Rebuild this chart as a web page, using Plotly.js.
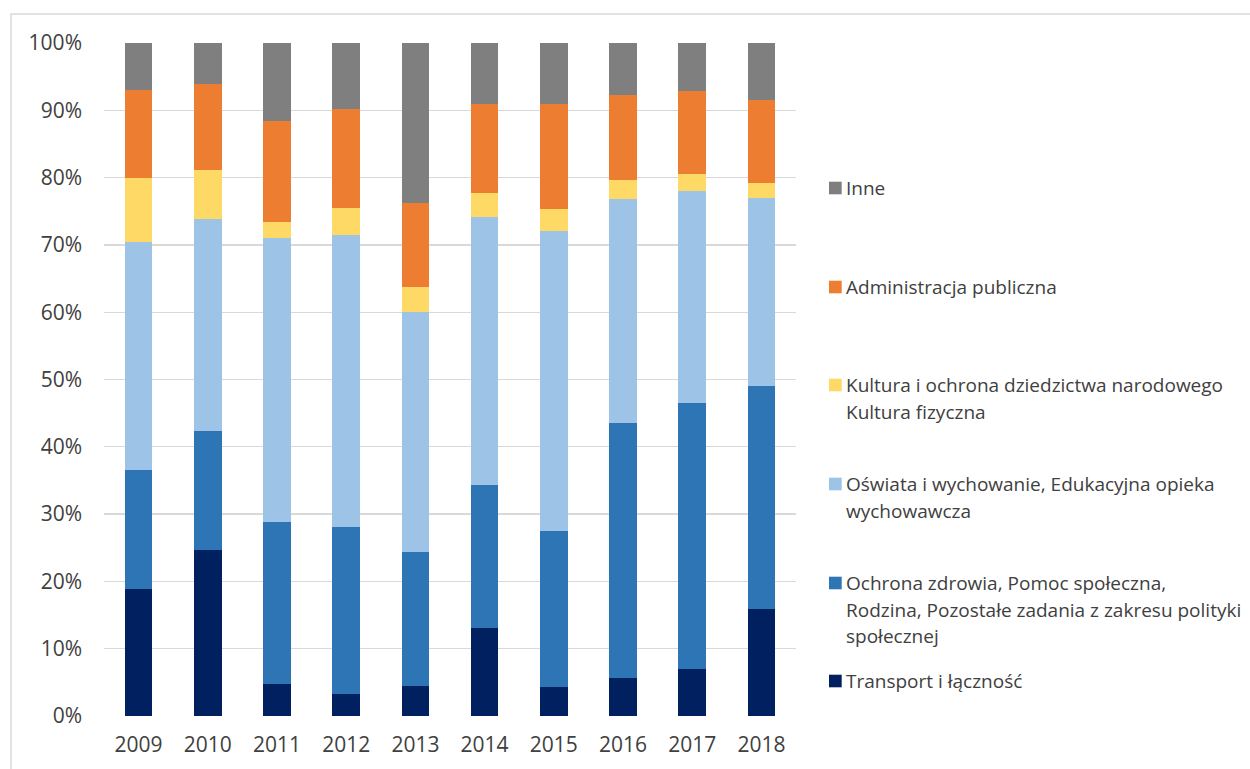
<!DOCTYPE html>
<html>
<head>
<meta charset="utf-8">
<script src="https://cdn.plot.ly/plotly-3.0.1.min.js"></script>
<style>html,body{margin:0;padding:0;background:#fff;}#chart{width:1250px;height:769px;}</style>
</head>
<body>
<div id="chart"></div>
<script>
const years = ['2009','2010','2011','2012','2013','2014','2015','2016','2017','2018'];
const yTickVals = [0,10,20,30,40,50,60,70,80,90,100];
const yTickText = ['0%','10%','20%','30%','40%','50%','60%','70%','80%','90%','100%'];

// shares in percent (bottom to top)
const transport = [18.9, 24.7, 4.7, 3.2, 4.4, 13.1, 4.3, 5.7, 7.0, 15.9];
const ochrona   = [17.6, 17.6, 24.1, 24.9, 19.9, 21.2, 23.2, 37.9, 39.5, 33.1];
const oswiata   = [34.0, 31.6, 42.2, 43.3, 35.7, 39.8, 44.6, 33.2, 31.5, 28.0];
const kultura   = [9.4, 7.3, 2.4, 4.1, 3.7, 3.6, 3.3, 2.8, 2.5, 2.2];
const admin     = [13.1, 12.7, 15.0, 14.7, 12.5, 13.3, 15.5, 12.6, 12.3, 12.4];
const inne      = [7.0, 6.1, 11.7, 9.8, 23.8, 9.0, 9.1, 7.8, 7.2, 8.4];

const seriesNames = [
  'Transport i łączność',
  'Ochrona zdrowia, Pomoc społeczna,\nRodzina, Pozostałe zadania z zakresu polityki\nspołecznej',
  'Oświata i wychowanie, Edukacyjna opieka\nwychowawcza',
  'Kultura i ochrona dziedzictwa narodowego\nKultura fizyczna',
  'Administracja publiczna',
  'Inne'
];
const seriesValues = [transport, ochrona, oswiata, kultura, admin, inne];
const seriesColors = ['#002060', '#2E75B6', '#9DC3E6', '#FFD966', '#ED7D31', '#7F7F7F'];

const W = 1250, H = 769;
const M = {l: 104, r: 454, t: 43, b: 53};
const pw = W - M.l - M.r, ph = H - M.t - M.b;
const px = x => (x - M.l) / pw;
const py = y => (H - M.b - y) / ph;

const traces = seriesValues.map((vals, i) => ({
  type: 'bar',
  name: seriesNames[i].replace(/\n/g, ' '),
  x: years,
  y: vals,
  marker: {color: seriesColors[i], line: {width: 0}},
  hoverinfo: 'x+y+name'
}));

// manual legend (top entry = last series)
const legendFirstLineY = [681, 583, 484, 385, 287, 188]; // per series index
const lineGap = 26.7;
const annotations = [];
const shapes = [];
seriesNames.forEach((nm, i) => {
  const lines = nm.split('\n');
  const y0 = legendFirstLineY[i];
  shapes.push({
    type: 'rect', xref: 'paper', yref: 'paper',
    x0: px(829), x1: px(841.7), y0: py(y0 + 6.3), y1: py(y0 - 6.3),
    fillcolor: seriesColors[i], line: {width: 0}
  });
  lines.forEach((ln, k) => {
    annotations.push({
      xref: 'paper', yref: 'paper', x: px(844), y: py(y0 + k * lineGap),
      xanchor: 'left', yanchor: 'middle', showarrow: false, text: ln,
      font: {family: 'Open Sans, sans-serif', size: 19, color: '#404040'}
    });
  });
});
// chart border
shapes.push({
  type: 'rect', xref: 'paper', yref: 'paper',
  x0: px(11), x1: px(1260), y0: py(780), y1: py(14),
  line: {color: '#d9d9d9', width: 1.5}, fillcolor: 'rgba(0,0,0,0)'
});

const layout = {
  width: W, height: H,
  margin: M,
  barmode: 'stack',
  bargap: 0.6,
  showlegend: false,
  paper_bgcolor: '#ffffff',
  plot_bgcolor: '#ffffff',
  font: {family: 'Open Sans, sans-serif', color: '#404040'},
  xaxis: {
    type: 'category',
    tickfont: {family: 'Open Sans, sans-serif', size: 21, color: '#404040'},
    showgrid: false, zeroline: false, showline: false, ticks: '',
    ticklabelstandoff: 14,
    fixedrange: true
  },
  yaxis: {
    range: [0, 100],
    tickvals: yTickVals, ticktext: yTickText,
    tickfont: {family: 'Open Sans, sans-serif', size: 21, color: '#404040'},
    showgrid: true, gridcolor: '#d9d9d9', gridwidth: 1.3,
    zeroline: false, showline: false, ticks: '',
    ticklabelstandoff: 21,
    fixedrange: true
  },
  shapes: shapes,
  annotations: annotations
};

Plotly.newPlot('chart', traces, layout, {displayModeBar: false, staticPlot: true});
</script>
</body>
</html>
